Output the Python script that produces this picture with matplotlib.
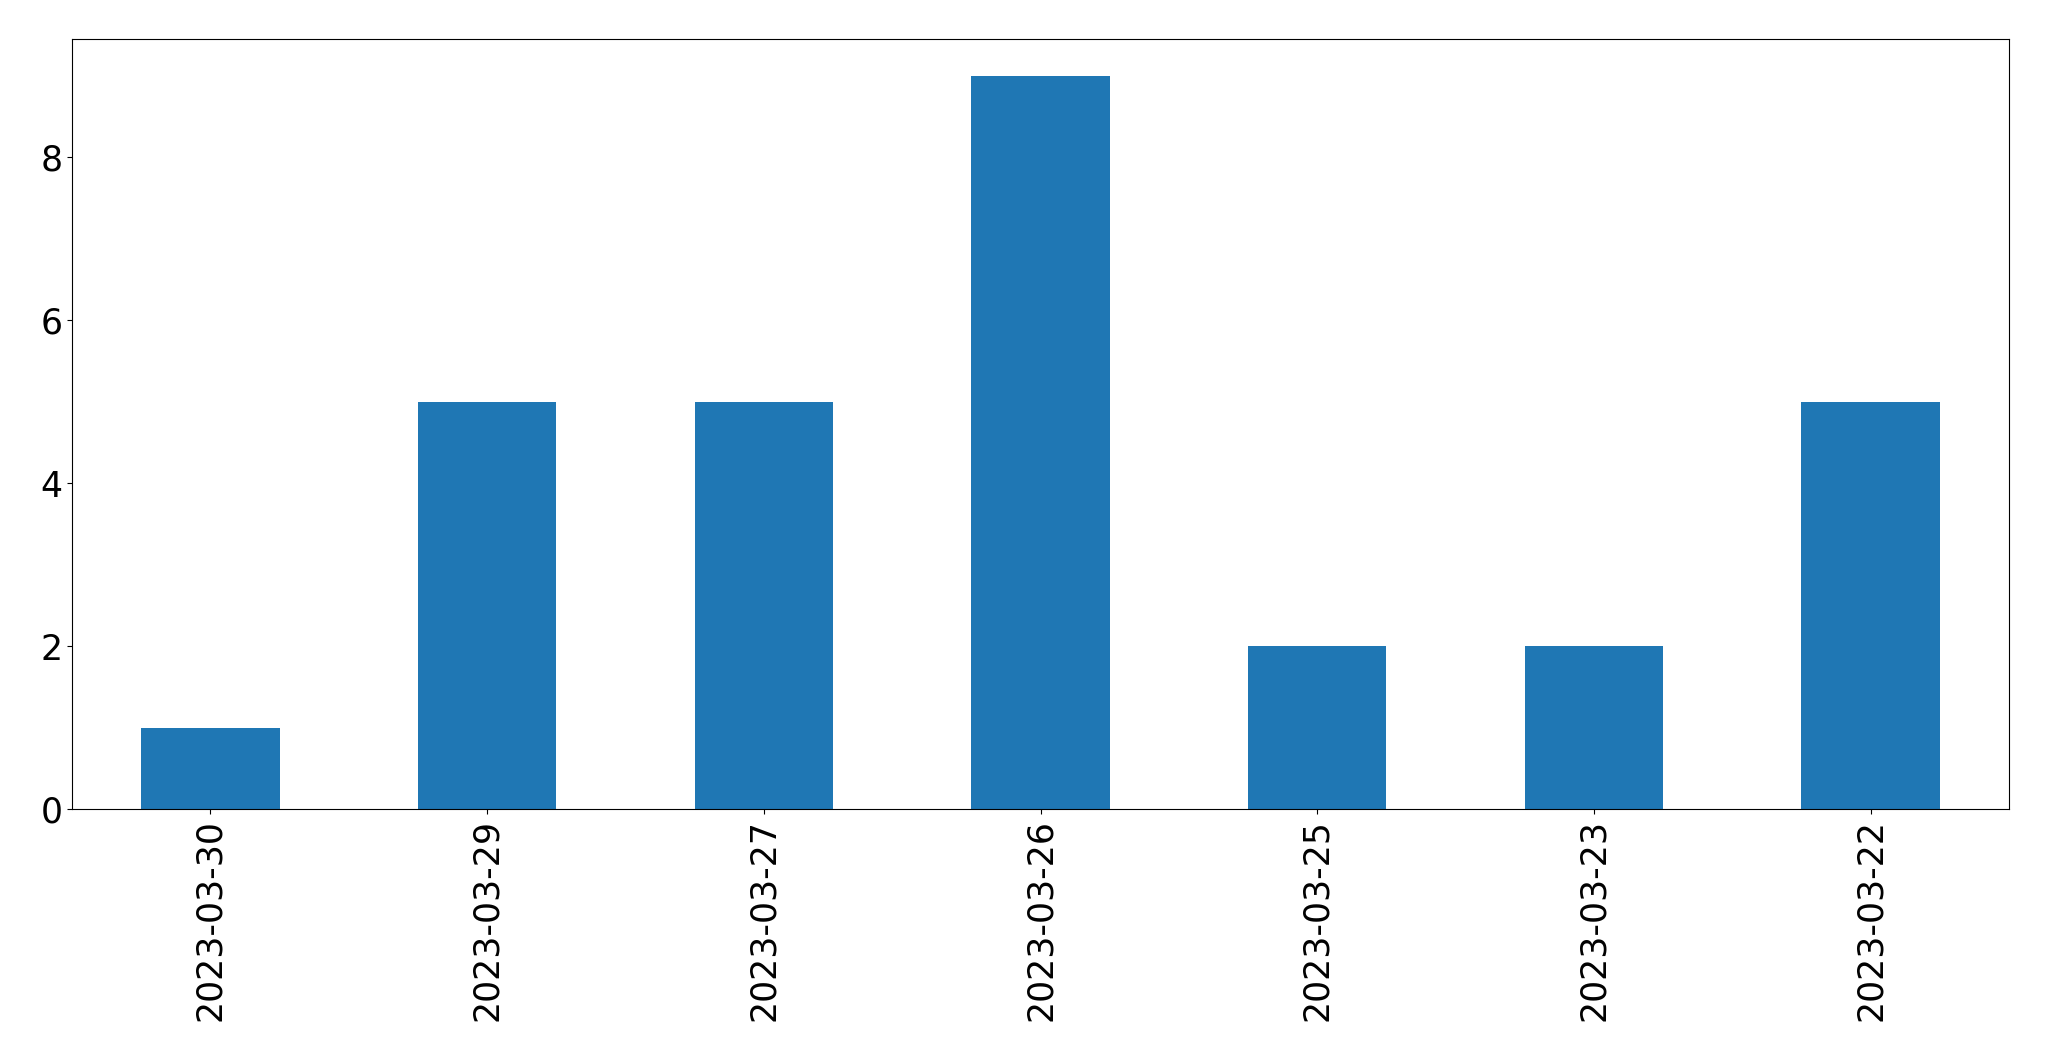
import matplotlib
matplotlib.use("Agg")
import matplotlib.pyplot as plt
import pandas as pd

DATES = ["2023-03-30", "2023-03-29", "2023-03-27", "2023-03-26",
         "2023-03-25", "2023-03-23", "2023-03-22"]
COUNTS = [1, 5, 5, 9, 2, 2, 5]

counts = pd.Series(COUNTS, index=DATES)

fig = plt.figure(figsize=(20.49, 10.61), dpi=100)
ax = fig.add_axes([72 / 2049, 1 - 809 / 1061, (2009 - 72) / 2049, (809 - 39) / 1061])
counts.plot(kind="bar", ax=ax, color="#1f77b4")
ax.tick_params(axis="both", labelsize=25)
ax.tick_params(axis="x", labelrotation=90)

fig.savefig("out.png", dpi=100)
